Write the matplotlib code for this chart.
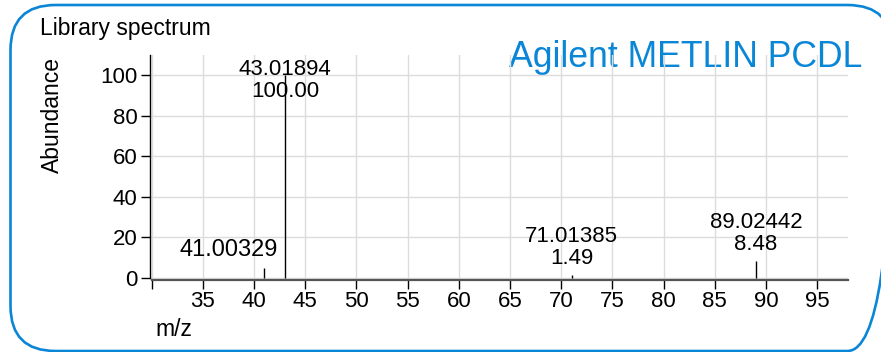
import numpy as np
import matplotlib.pyplot as plt
from matplotlib.patches import FancyBboxPatch

plt.rcParams['font.family'] = ['Liberation Sans', 'DejaVu Sans']

# library MS/MS peaks
mz = [41.00329, 43.01894, 71.01385, 89.02442]
abundance = [4.6, 100.00, 1.49, 8.48]
show_abundance = [False, True, True, True]

x_ticks = [30, 35, 40, 45, 50, 55, 60, 65, 70, 75, 80, 85, 90, 95]
x_ticklabels = [''] + [str(t) for t in x_ticks[1:]]
y_ticks = [0, 20, 40, 60, 80, 100]

blue = '#0a86d6'
W, H = 881, 352

fig = plt.figure(figsize=(W / 100, H / 100), dpi=100)

# background layer in pixel units: frame and headings
bg = fig.add_axes([0, 0, 1, 1], zorder=0)
bg.set_xlim(0, W)
bg.set_ylim(H, 0)
bg.axis('off')
frame = FancyBboxPatch((10.5, 5), 882, 346, boxstyle="round,pad=0,rounding_size=45",
                       fill=False, ec=blue, lw=1.9)
bg.add_patch(frame)
bg.text(40, 28, "Library spectrum", fontsize=16.5, ha='left', va='center')
bg.text(862, 67, "Agilent METLIN PCDL", fontsize=25.7, color=blue, ha='right', va='baseline')
bg.text(52, 115, "Abundance", fontsize=16.5, rotation=90, ha='center', va='center')
bg.text(155, 330, "m/z", fontsize=16.5, ha='left', va='center')

ax = fig.add_axes([149.5 / W, (H - 279.5) / H, (848 - 149.5) / W, (279.5 - 55) / H], zorder=1)
ax.set_facecolor('none')
ax.set_xlim(29.8, 98.0)
ax.set_ylim(-0.9, 110)

ax.vlines(mz, 0, abundance, color='black', lw=1)

ymax = 110
tallest = int(np.argmax(abundance))
for i, (m, a, show) in enumerate(zip(mz, abundance, show_abundance)):
    label = f"{m:.5f}\n{a:.2f}" if show else f"{m:.5f}"
    if i == tallest:
        ax.text(m, 108, label, ha='center', va='top', fontsize=16, linespacing=1.05)
    elif abs(m - mz[tallest]) < 5:
        # too close to the base peak: push the label to its left
        ax.annotate(label, xy=(mz[tallest], a), xytext=(-5, 5), textcoords='offset points',
                    ha='right', va='bottom', fontsize=17)
    else:
        ax.annotate(label, xy=(m, a), xytext=(0, 4), textcoords='offset points',
                    ha='center', va='bottom', fontsize=16, linespacing=1.05)

ax.set_xticks(x_ticks)
ax.set_xticklabels(x_ticklabels)
ax.set_yticks(y_ticks)
ax.tick_params(length=6.5, width=1, labelsize=16, pad=2, colors='black')

ax.grid(True, color='#dcdcdc', lw=1)
ax.set_axisbelow(True)

ax.spines['top'].set_visible(False)
ax.spines['right'].set_visible(False)
ax.spines['left'].set_bounds(0, ymax)
ax.spines['left'].set_linewidth(1)
ax.spines['bottom'].set_bounds(30, 98)
ax.spines['bottom'].set_linewidth(1.6)
ax.spines['bottom'].set_color('#555555')

fig.savefig('out.png', dpi=100)
